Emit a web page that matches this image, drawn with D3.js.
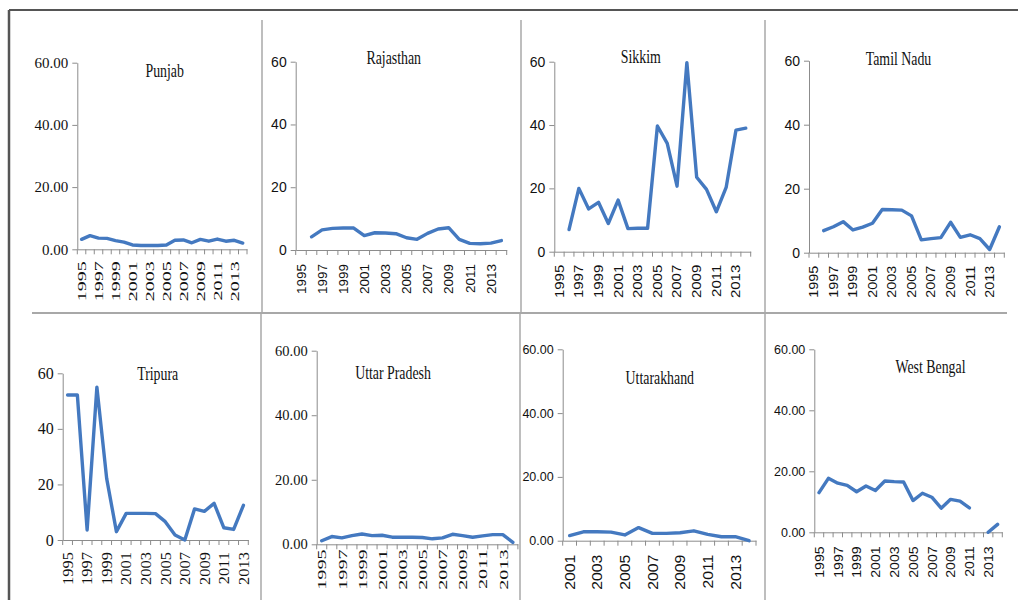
<!DOCTYPE html>
<html><head><meta charset="utf-8">
<script src="https://cdn.jsdelivr.net/npm/d3@7"></script>
<style>body{margin:0;background:#fff}svg{display:block}</style>
</head><body>
<svg id="chart" width="1018" height="600"></svg>
<script>
// ---------- categories ----------
const years1995to2014 = ["1995","1996","1997","1998","1999","2000","2001","2002","2003","2004","2005","2006","2007","2008","2009","2010","2011","2012","2013","2014"];
const years1995to2013 = ["1995","1996","1997","1998","1999","2000","2001","2002","2003","2004","2005","2006","2007","2008","2009","2010","2011","2012","2013"];
const years2001to2014 = ["2001","2002","2003","2004","2005","2006","2007","2008","2009","2010","2011","2012","2013","2014"];

// ---------- series values ----------
const punjab       = [3.2,4.4,3.6,3.5,2.8,2.3,1.4,1.2,1.2,1.2,1.4,2.9,3.0,2.1,3.2,2.6,3.3,2.6,2.9,2.0];
const rajasthan    = [null,4.2,6.4,6.9,7.0,7.0,4.6,5.5,5.4,5.2,3.9,3.4,5.3,6.7,7.1,3.4,2.1,2.0,2.2,3.0];
const sikkim       = [null,7.0,20.0,13.5,15.6,8.9,16.3,7.3,7.4,7.4,39.7,34.2,20.7,59.7,23.5,19.7,12.6,20.3,38.4,39.0];
const tamilNadu    = [null,6.9,8.1,9.7,7.1,8.0,9.2,13.5,13.4,13.3,11.5,4.0,4.4,4.7,9.5,4.8,5.6,4.4,1.0,8.1];
const tripura      = [52.2,52.2,3.6,55.0,22.2,3.0,9.6,9.6,9.6,9.5,6.6,1.8,0.0,11.2,10.3,13.2,4.4,3.8,12.5];
const uttarPradesh = [1.1,2.4,2.0,2.7,3.2,2.7,2.8,2.2,2.2,2.2,2.1,1.7,2.0,3.1,2.7,2.2,2.6,3.0,3.0,0.6];
const uttarakhand  = [1.6,2.8,2.8,2.7,1.8,4.1,2.3,2.3,2.5,3.1,2.0,1.25,1.25,0.0];
const westBengal   = [13.0,17.7,16.1,15.4,13.3,15.2,13.7,16.8,16.6,16.5,10.4,12.8,11.5,7.9,10.8,10.2,8.0,null,0.0,2.6];

// ---------- tick values ----------
const yTicks = [0,20,40,60];

// ---------- layout (positions / styles) ----------
const SERIF = "'Liberation Serif','Times New Roman',serif";
const SANS  = "'Liberation Sans',Arial,sans-serif";
const panels = [
  {title:"Punjab",        cats:years1995to2014, values:punjab,       font:SERIF, fmt:".2f", x0:77.3,  x1:247,   y0:249.3, y60:62.7,  tx:164.7, ty:76.7,  yfs:15,   xfs:12.5, xsx:1.6,  xgap:12},
  {title:"Rajasthan",     cats:years1995to2014, values:rajasthan,    font:SANS,  fmt:"d",   x0:295.7, x1:506.7, y0:250,   y60:61.7,  tx:393.7, ty:64,    yfs:14,   xfs:13.5, xsx:1.0,  xgap:14},
  {title:"Sikkim",        cats:years1995to2014, values:sikkim,       font:SANS,  fmt:"d",   x0:554.3, x1:750.7, y0:251.7, y60:61.7,  tx:640.8, ty:62.7,  yfs:14,   xfs:12.5, xsx:1.2,  xgap:13},
  {title:"Tamil Nadu",    cats:years1995to2014, values:tamilNadu,    font:SANS,  fmt:"d",   x0:809,   x1:1004.3,y0:252.7, y60:60.7,  tx:898.5, ty:65,    yfs:14,   xfs:12.5, xsx:1.15, xgap:13},
  {title:"Tripura",       cats:years1995to2013, values:tripura,      font:SERIF, fmt:"d",   x0:62.7,  x1:248.3, y0:540,   y60:373.3, tx:157.7, ty:380.3, yfs:16,   xfs:15,   xsx:1.1,  xgap:12},
  {title:"Uttar Pradesh", cats:years1995to2014, values:uttarPradesh, font:SERIF, fmt:".2f", x0:316.7, x1:517.9, y0:544.3, y60:350.7, tx:393,   ty:379,   yfs:14.5, xfs:13.5, xsx:1.5,  xgap:5},
  {title:"Uttarakhand",   cats:years2001to2014, values:uttarakhand,  font:SANS,  fmt:".2f", x0:562.7, x1:756,   y0:540.7, y60:349.3, tx:659.8, ty:384,   yfs:12.5, xfs:15,   xsx:1.05, xgap:14},
  {title:"West Bengal",   cats:years1995to2014, values:westBengal,   font:SANS,  fmt:".2f", x0:814.3, x1:1002.3,y0:532.3, y60:349.3, tx:930.5, ty:372.7, yfs:12.5, xfs:13.5, xsx:1.05, xgap:14}
];

const svg = d3.select("#chart");
svg.append("rect").attr("width",1018).attr("height",600).attr("fill","#fff");

// frame lines
const frame = svg.append("g").attr("fill","none");
frame.append("line").attr("x1",9).attr("x2",1018).attr("y1",10).attr("y2",10).attr("stroke","#555").attr("stroke-width",2);
frame.append("line").attr("x1",9).attr("x2",9).attr("y1",10).attr("y2",600).attr("stroke","#555").attr("stroke-width",2.5);
[[262,20,313],[521,20,313],[765,20,313],[261,313,600],[520,313,600],[765,313,600]].forEach(v=>{
  frame.append("line").attr("x1",v[0]).attr("x2",v[0]).attr("y1",v[1]).attr("y2",v[2]).attr("stroke","#a8a8a8").attr("stroke-width",1.5);
});
frame.append("line").attr("x1",32).attr("x2",1007).attr("y1",313).attr("y2",313).attr("stroke","#a8a8a8").attr("stroke-width",2);

const AXIS = "#8c8c8c";
const LINE = "#4479c0";

panels.forEach(p=>{
  const g = svg.append("g");
  const x = d3.scaleBand().domain(p.cats).range([p.x0,p.x1]).paddingInner(0).paddingOuter(0);
  const y = d3.scaleLinear().domain([0,60]).range([p.y0,p.y60]);

  // y axis
  const ya = g.append("g").attr("transform",`translate(${p.x0},0)`)
    .call(d3.axisLeft(y).tickValues(yTicks).tickSize(5).tickSizeOuter(0).tickPadding(4).tickFormat(d3.format(p.fmt)));
  ya.select(".domain").attr("stroke",AXIS);
  ya.selectAll(".tick line").attr("stroke",AXIS);
  ya.selectAll(".tick text").attr("fill","#111").style("font-family",p.font).style("font-size",p.yfs+"px");

  // x axis (labels every other category)
  const xa = g.append("g").attr("transform",`translate(0,${p.y0})`)
    .call(d3.axisBottom(x).tickSize(0).tickSizeOuter(0).tickFormat((d,i)=> i%2===0 ? d : ""));
  xa.select(".domain").attr("stroke",AXIS);
  xa.selectAll(".tick text")
    .attr("x",0).attr("y",0).attr("dy","0.35em")
    .attr("text-anchor","end")
    .attr("transform",`translate(0,${p.xgap}) rotate(-90) scale(${p.xsx},1)`)
    .attr("fill","#111").style("font-family",p.font).style("font-size",p.xfs+"px");

  // category boundary ticks
  const bounds = p.cats.map(c=>x(c)).concat([p.x1]);
  g.append("g").selectAll("line").data(bounds).join("line")
    .attr("x1",d=>d).attr("x2",d=>d).attr("y1",p.y0).attr("y2",p.y0+5)
    .attr("stroke",AXIS).attr("stroke-width",1);

  // series
  const pts = p.cats.map((c,i)=>({c, v:p.values[i]}));
  const line = d3.line().defined(d=>d.v!==null).x(d=>x(d.c)+x.bandwidth()/2).y(d=>y(d.v));
  g.append("path").datum(pts).attr("d",line).attr("fill","none")
    .attr("stroke",LINE).attr("stroke-width",3.4).attr("stroke-linejoin","round").attr("stroke-linecap","round");

  // title
  g.append("text").attr("transform",`translate(${p.tx},${p.ty}) scale(0.77,1)`)
    .attr("text-anchor","middle").attr("fill","#111")
    .style("font-family",SERIF).style("font-size","18px").text(p.title);
});
</script>
</body></html>
